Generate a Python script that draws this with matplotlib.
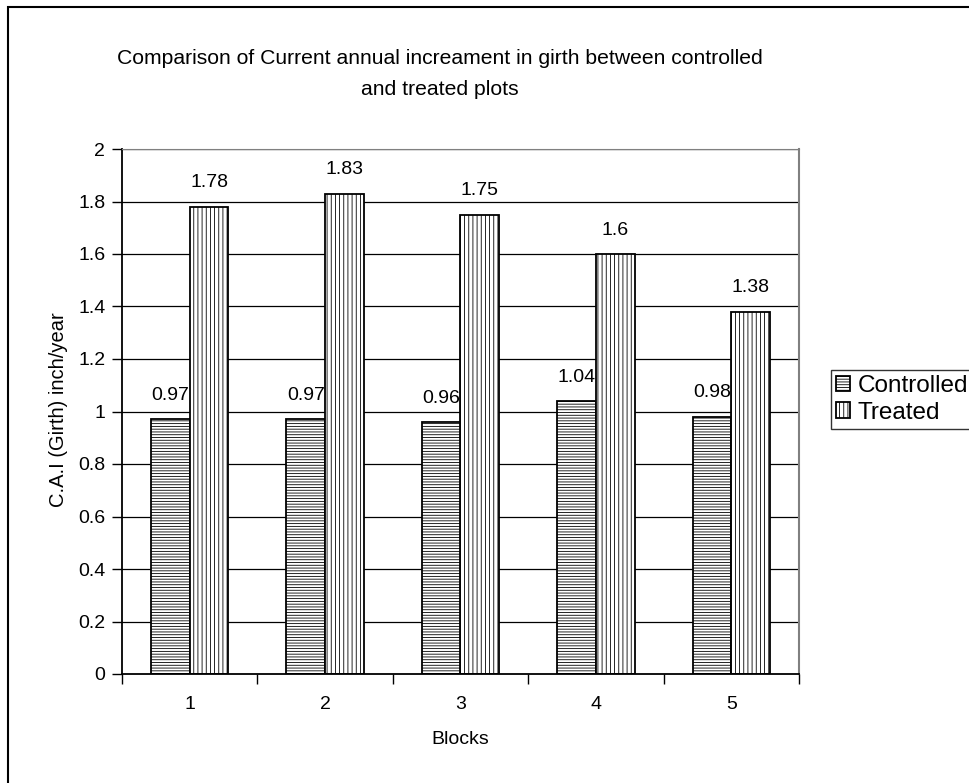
import matplotlib
matplotlib.use("Agg")
import matplotlib.pyplot as plt
import numpy as np

plt.rcParams['font.family'] = ['Liberation Sans', 'DejaVu Sans']
plt.rcParams['hatch.linewidth'] = 0.6

blocks = ["1", "2", "3", "4", "5"]
controlled = [0.97, 0.97, 0.96, 1.04, 0.98]
treated = [1.78, 1.83, 1.75, 1.6, 1.38]
controlled_labels = ["0.97", "0.97", "0.96", "1.04", "0.98"]
treated_labels = ["1.78", "1.83", "1.75", "1.6", "1.38"]

W, H = 970, 783
fig = plt.figure(figsize=(9.7, 7.83), dpi=100)
ax = fig.add_axes([122 / W, 1 - 674 / H, 677 / W, 525 / H])

# outer chart-area border (runs off the right and bottom edges like the original)
fig.patches.append(plt.Rectangle((8 / W, -0.1), 1.2, 1 - 7 / H + 0.1,
                                 transform=fig.transFigure, fill=False,
                                 edgecolor="black", linewidth=1.5))

x = np.arange(1, len(blocks) + 1)
w = 0.286
fs = 14

for yv in np.arange(0.2, 2.01, 0.2):
    ax.axhline(yv, color="black", linewidth=0.9, zorder=0)

b1 = ax.bar(x - w / 2, controlled, w, facecolor="white", edgecolor="black",
            hatch="------", linewidth=1.3, label="Controlled", zorder=2)
b2 = ax.bar(x + w / 2, treated, w, facecolor="white", edgecolor="black",
            hatch="||||", linewidth=1.3, label="Treated", zorder=2)

for xi, v, s in zip(x - w / 2, controlled, controlled_labels):
    ax.annotate(s, (xi, v), xytext=(0, 11), textcoords="offset points",
                ha="center", va="bottom", fontsize=fs)
for xi, v, s in zip(x + w / 2, treated, treated_labels):
    ax.annotate(s, (xi, v), xytext=(0, 11), textcoords="offset points",
                ha="center", va="bottom", fontsize=fs)

ax.set_xlim(0.5, 5.5)
ax.set_ylim(0, 2)
ax.set_yticks(np.arange(0, 2.01, 0.2))
ax.set_yticklabels(["0", "0.2", "0.4", "0.6", "0.8", "1", "1.2", "1.4", "1.6", "1.8", "2"])
ax.set_xticks(np.arange(0.5, 5.6, 1))
ax.set_xticklabels([])
ax.set_xticks(x, minor=True)
ax.set_xticklabels(blocks, minor=True)
ax.tick_params(axis="x", which="major", length=7, width=1, direction="out")
ax.tick_params(axis="x", which="minor", length=0, pad=16, labelsize=fs)
ax.tick_params(axis="y", length=7, width=1, direction="out", labelsize=fs, pad=5)

for side in ["left", "bottom"]:
    ax.spines[side].set_linewidth(1.3)
    ax.spines[side].set_color("black")
ax.spines["top"].set_color("#808080")
ax.spines["right"].set_color("#808080")
ax.spines["right"].set_linewidth(1.5)

fig.text(59 / W, 1 - 410 / H, "C.A.I (Girth) inch/year", rotation=90,
         ha="center", va="center", fontsize=14.5)
fig.text(460 / W, 1 - 740 / H, "Blocks", ha="center", va="center", fontsize=fs)
fig.text(440 / W, 1 - 74 / H,
         "Comparison of Current annual increament in girth between controlled\nand treated plots",
         ha="center", va="center", fontsize=15.2, linespacing=1.75)

fig.legend(handles=[b1, b2], loc="upper left", bbox_to_anchor=(831 / W, 1 - 370 / H),
           frameon=True, fancybox=False, edgecolor="black", fontsize=17.5,
           handlelength=0.6, handleheight=0.6, handletextpad=0.3,
           borderpad=0.2, labelspacing=0.2, borderaxespad=0)

fig.savefig("out.png", dpi=100)
